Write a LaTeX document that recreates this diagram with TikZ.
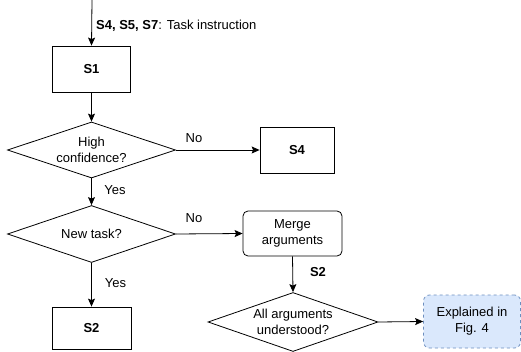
\documentclass[tikz,border=0pt]{standalone}
\usepackage{fontspec}
\setmainfont{Liberation Sans}
\usetikzlibrary{shapes.geometric,arrows.meta}
\definecolor{fillblue}{HTML}{DAE8FC}
\definecolor{edgeblue}{HTML}{6C8EBF}
\begin{document}
\begin{tikzpicture}[x=1pt,y=-1pt,
  font=\fontsize{13}{16}\selectfont,
  every node/.style={inner sep=0pt},
  box/.style={draw, line width=0.8pt, align=center},
  dec/.style={draw, diamond, aspect=3, line width=0.8pt, align=center},
  arr/.style={line width=0.8pt, -{Stealth[length=8pt,width=7pt,inset=1.5pt]}},
  lbl/.style={align=left}]
\useasboundingbox (0,0) rectangle (521,352);
\coordinate (top) at (92,0);
\node[box, minimum width=78pt, minimum height=46pt] (s1) at (91.5,69) {\textbf{S1}};
\node[dec, minimum width=168pt, minimum height=56pt] (d1) at (91.5,150) {High\\confidence?};
\node[box, minimum width=74pt, minimum height=46pt] (s4) at (297,150) {\textbf{S4}};
\node[dec, minimum width=168pt, minimum height=57pt] (d2) at (91.5,234) {New task?};
\node[box, rounded corners=5pt, minimum width=99pt, minimum height=45pt] (merge) at (292.5,233.5) {Merge\\arguments};
\node[dec, minimum width=170pt, minimum height=59pt] (d3) at (293,322) {All arguments\\understood?};
\node[box, minimum width=79pt, minimum height=42pt] (s2) at (91.5,328) {\textbf{S2}};
\node[box, draw=edgeblue, fill=fillblue, dashed, rounded corners=6pt, minimum width=97pt, minimum height=53pt] (fig) at (472,321.5) {Explained in\\Fig. 4};

\draw[arr] (top) -- (s1.north);
\draw[arr] (s1) -- (d1.north);
\draw[arr] (d1.east) -- (s4.west);
\draw[arr] (d1.south) -- (d2.north);
\draw[arr] (d2.east) -- (merge.west);
\draw[arr] (d2.south) -- (s2.north);
\draw[arr] (merge.south) -- (d3.north);
\draw[arr] (d3.east) -- (fig.west);

\node[lbl, anchor=west] (l0) at (96,26) {\textbf{S4, S5, S7}: Task instruction};
\node (l1) at (194,138) {No};
\node (l2) at (115,190) {Yes};
\node (l3) at (194,218) {No};
\node (l4) at (115.5,283) {Yes};
\node (l5) at (318,272) {\textbf{S2}};
\end{tikzpicture}
\end{document}
